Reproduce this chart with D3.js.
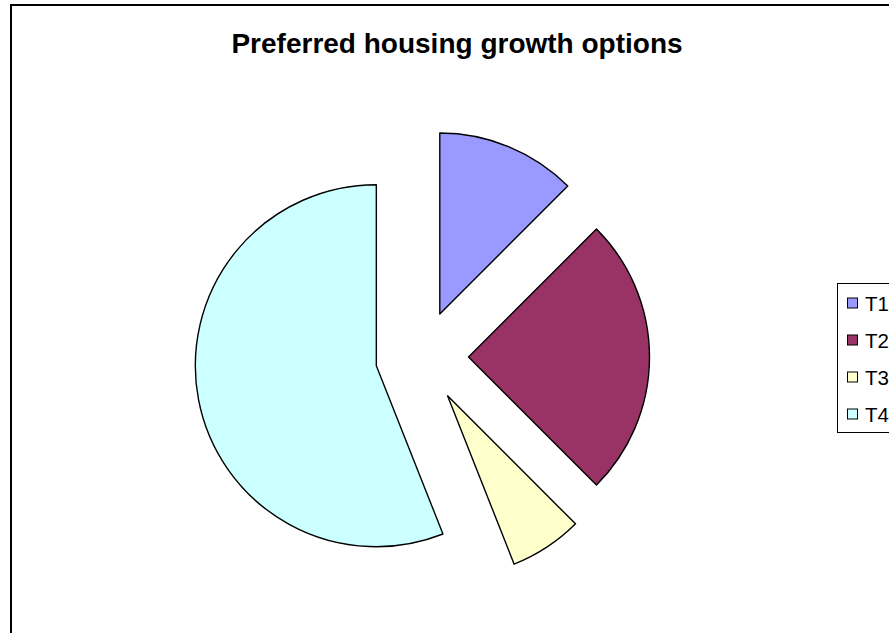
<!DOCTYPE html>
<html>
<head>
<meta charset="utf-8">
<script src="https://cdn.jsdelivr.net/npm/d3@7"></script>
<style>
  body { margin: 0; background: #fff; }
  svg { display: block; }
</style>
</head>
<body>
<script>
// pie data (share of total)
var categories = ["T1", "T2", "T3", "T4"];
var values = [12.5, 25, 6.5, 56];
var colors = ["#9999FF", "#993366", "#FFFFCC", "#CCFFFF"];
var title = "Preferred housing growth options";

var W = 889, H = 633;
var cx = 422, cy = 357, radius = 181, explode = 46.5;

var svg = d3.select("body").append("svg")
  .attr("width", W)
  .attr("height", H);

// chart frame (runs off the right and bottom edges)
svg.append("rect")
  .attr("x", 11).attr("y", 5)
  .attr("width", 900).attr("height", 660)
  .attr("fill", "#fff")
  .attr("stroke", "#000")
  .attr("stroke-width", 2);

svg.append("text")
  .attr("x", 457).attr("y", 53)
  .attr("text-anchor", "middle")
  .attr("font-family", "Arial, 'Liberation Sans', sans-serif")
  .attr("font-weight", "bold")
  .attr("font-size", 28)
  .text(title);

var pie = d3.pie().sort(null).value(function(d) { return d; });
var arc = d3.arc().innerRadius(0).outerRadius(radius);
var slices = pie(values);

var g = svg.append("g").attr("transform", "translate(" + cx + "," + cy + ")");

g.selectAll("path")
  .data(slices)
  .enter().append("path")
  .attr("d", arc)
  .attr("transform", function(d) {
    var a = (d.startAngle + d.endAngle) / 2;
    return "translate(" + (Math.sin(a) * explode) + "," + (-Math.cos(a) * explode) + ")";
  })
  .attr("fill", function(d, i) { return colors[i]; })
  .attr("stroke", "#000")
  .attr("stroke-width", 1.4)
  .attr("stroke-linejoin", "round");

// legend
var ly = d3.scaleLinear().domain([0, categories.length - 1]).range([303, 414]);

svg.append("rect")
  .attr("x", 837.5).attr("y", 283.5)
  .attr("width", 80).attr("height", 149)
  .attr("fill", "#fff")
  .attr("stroke", "#000")
  .attr("stroke-width", 1);

var items = svg.selectAll("g.item")
  .data(categories)
  .enter().append("g")
  .attr("class", "item")
  .attr("transform", function(d, i) { return "translate(0," + ly(i) + ")"; });

items.append("rect")
  .attr("x", 847.5).attr("y", -5)
  .attr("width", 10).attr("height", 10)
  .attr("fill", function(d, i) { return colors[i]; })
  .attr("stroke", "#000")
  .attr("stroke-width", 1);

items.append("text")
  .attr("x", 865).attr("y", 7.5)
  .attr("font-family", "Arial, 'Liberation Sans', sans-serif")
  .attr("font-size", 20.5)
  .text(function(d) { return d; });
</script>
</body>
</html>
